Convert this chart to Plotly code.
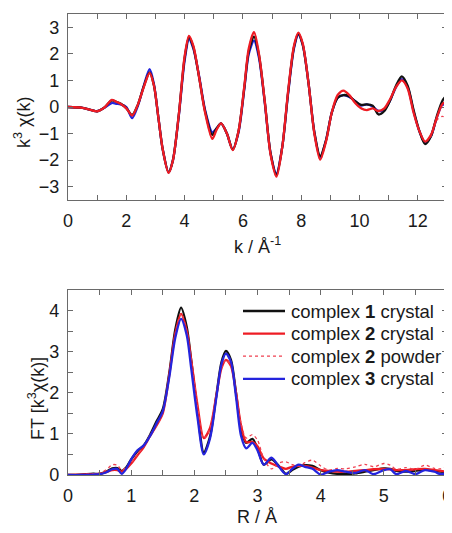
import plotly.graph_objects as go

# ---------------- top panel: k^3 chi(k) ----------------
k = [0, 0.5, 1.0, 1.25, 1.5, 1.65, 1.8, 2.0, 2.2, 2.4, 2.6, 2.8, 2.95, 3.1, 3.25, 3.45, 3.6, 3.8,
     4.0, 4.15, 4.3, 4.5, 4.7, 4.95, 5.1, 5.25, 5.45, 5.65, 5.85, 6.05, 6.2, 6.38, 6.55, 6.75,
     6.95, 7.15, 7.35, 7.55, 7.75, 7.9, 8.05, 8.25, 8.45, 8.65, 8.85, 9.05, 9.25, 9.45, 9.65,
     9.85, 10.05, 10.25, 10.45, 10.65, 10.85, 11.05, 11.25, 11.45, 11.65, 11.85, 12.05, 12.25,
     12.45, 12.65, 12.85, 13.0]

chi_c1_crystal = [0, -0.03, -0.16, -0.02, 0.25, 0.2, 0.13, -0.04, -0.3, 0.1, 0.78, 1.3, 0.8, -0.4,
                  -1.6, -2.46, -2.0, -0.3, 1.85, 2.62, 2.25, 1.1, -0.15, -1.05, -0.8, -0.62, -1.0,
                  -1.6, -0.9, 0.75, 2.1, 2.65, 1.95, 0.2, -1.75, -2.55, -1.5, 0.55, 2.25, 2.75, 2.35,
                  0.9, -0.95, -1.85, -1.25, -0.2, 0.35, 0.45, 0.4, 0.22, 0.08, 0.1, 0.05, -0.28,
                  -0.15, 0.25, 0.8, 1.15, 0.8, -0.1, -0.9, -1.4, -1.1, -0.35, 0.25, 0.45]

chi_c2_crystal = [0, -0.03, -0.16, -0.02, 0.27, 0.2, 0.12, -0.05, -0.32, 0.1, 0.75, 1.28, 0.8, -0.4,
                  -1.6, -2.48, -2.0, -0.3, 1.9, 2.68, 2.3, 1.1, -0.2, -1.2, -0.85, -0.62, -1.0,
                  -1.62, -0.9, 0.8, 2.2, 2.82, 2.0, 0.2, -1.8, -2.62, -1.5, 0.6, 2.3, 2.8, 2.4,
                  0.9, -1.0, -1.98, -1.3, -0.2, 0.45, 0.62, 0.45, 0.15, -0.05, -0.12, -0.05, -0.15,
                  -0.05, 0.3, 0.75, 1.0, 0.7, -0.2, -0.9, -1.3, -1.05, -0.4, 0.12, 0.2]

chi_c2_powder = [0, -0.03, -0.16, -0.02, 0.27, 0.2, 0.12, -0.05, -0.32, 0.1, 0.75, 1.28, 0.8, -0.4,
                 -1.6, -2.48, -2.0, -0.3, 1.9, 2.68, 2.3, 1.1, -0.2, -1.2, -0.85, -0.62, -1.0,
                 -1.62, -0.9, 0.8, 2.2, 2.82, 2.0, 0.2, -1.8, -2.62, -1.5, 0.6, 2.3, 2.8, 2.4,
                 0.9, -1.0, -1.98, -1.3, -0.2, 0.45, 0.6, 0.45, 0.15, -0.05, -0.1, -0.05, -0.15,
                 -0.05, 0.3, 0.75, 1.0, 0.7, -0.2, -0.9, -1.3, -1.1, -0.5, -0.35, -0.5]

chi_c3_crystal = [0, -0.03, -0.16, -0.03, 0.15, 0.12, 0.1, 0.0, -0.42, 0.05, 0.8, 1.42, 0.85, -0.4,
                  -1.6, -2.46, -2.0, -0.35, 1.75, 2.55, 2.2, 1.15, -0.1, -0.95, -0.8, -0.62, -1.0,
                  -1.6, -0.95, 0.7, 2.0, 2.5, 1.85, 0.15, -1.75, -2.5, -1.5, 0.5, 2.2, 2.72, 2.35,
                  0.9, -0.95, -1.9, -1.25, -0.2, 0.35, 0.45, 0.38, 0.22, 0.05, 0.1, 0.02, -0.15,
                  -0.1, 0.25, 0.75, 1.05, 0.75, -0.15, -0.9, -1.35, -1.1, -0.4, 0.1, 0.0]

k_ticks = [0, 2, 4, 6, 8, 10, 12]
chi_ticks = [-3, -2, -1, 0, 1, 2, 3]

# ---------------- bottom panel: Fourier transform ----------------
R = [0, 0.2, 0.4, 0.5, 0.6, 0.7, 0.78, 0.85, 0.92, 1.0, 1.1, 1.2, 1.3, 1.4, 1.5, 1.6, 1.7, 1.79,
     1.88, 1.95, 2.05, 2.15, 2.25, 2.35, 2.43, 2.5, 2.58, 2.66, 2.74, 2.82, 2.92, 3.0, 3.1, 3.22,
     3.35, 3.45, 3.55, 3.65, 3.75, 3.87, 4.0, 4.13, 4.26, 4.4, 4.55, 4.7, 4.84, 5.0, 5.1, 5.2,
     5.35, 5.5, 5.65, 5.8, 5.9, 6.0]

ft_c1_crystal = [0.0, 0.01, 0.03, 0.03, 0.08, 0.16, 0.17, 0.1, 0.18, 0.38, 0.58, 0.72, 0.98, 1.3,
                 1.6, 2.45, 3.55, 4.07, 3.6, 2.8, 1.55, 0.55, 0.95, 1.95, 2.75, 3.02, 2.8, 2.0,
                 1.1, 0.78, 0.88, 0.65, 0.25, 0.38, 0.2, 0.03, 0.12, 0.2, 0.24, 0.22, 0.12, 0.06,
                 0.03, 0.02, 0.04, 0.08, 0.12, 0.16, 0.15, 0.1, 0.08, 0.1, 0.13, 0.1, 0.08, 0.06]

ft_c2_crystal = [0.0, 0.01, 0.02, 0.03, 0.07, 0.12, 0.12, 0.08, 0.15, 0.28, 0.48, 0.68, 0.95, 1.2,
                 1.5, 2.4, 3.45, 3.92, 3.5, 2.8, 1.7, 0.9, 1.15, 1.95, 2.6, 2.8, 2.65, 2.0, 1.2,
                 0.8, 0.8, 0.7, 0.4, 0.28, 0.2, 0.15, 0.2, 0.22, 0.22, 0.18, 0.12, 0.1, 0.08, 0.08,
                 0.1, 0.12, 0.14, 0.15, 0.14, 0.12, 0.12, 0.14, 0.15, 0.12, 0.1, 0.08]

ft_c2_powder = [0.0, 0.01, 0.03, 0.05, 0.12, 0.25, 0.24, 0.12, 0.18, 0.3, 0.5, 0.7, 0.95, 1.2,
                1.5, 2.4, 3.45, 3.92, 3.5, 2.8, 1.7, 0.88, 1.15, 1.95, 2.6, 2.8, 2.65, 2.0, 1.25,
                0.9, 0.98, 0.85, 0.4, 0.15, 0.3, 0.32, 0.25, 0.22, 0.3, 0.36, 0.22, 0.12, 0.16,
                0.15, 0.2, 0.26, 0.2, 0.28, 0.24, 0.14, 0.18, 0.14, 0.24, 0.16, 0.15, 0.2]

ft_c3_crystal = [0.0, 0.0, 0.01, 0.02, 0.06, 0.14, 0.15, 0.03, 0.15, 0.38, 0.6, 0.72, 0.95, 1.25,
                 1.55, 2.35, 3.35, 3.8, 3.4, 2.6, 1.4, 0.5, 0.9, 1.9, 2.7, 2.95, 2.75, 1.9, 0.95,
                 0.65, 0.78, 0.6, 0.25, 0.42, 0.18, 0.02, 0.15, 0.25, 0.2, 0.15, 0.01, 0.08, 0.12,
                 0.08, 0.05, 0.12, 0.02, 0.12, 0.14, 0.02, 0.1, 0.02, 0.12, 0.08, 0.02, 0.05]

R_ticks = [0, 1, 2, 3, 4, 5, 6]
ft_ticks = [0, 1, 2, 3, 4]

series_names = ["complex <b>1</b> crystal", "complex <b>2</b> crystal",
                "complex <b>2</b> powder", "complex <b>3</b> crystal"]

BLACK = "#111111"
RED = "#ee1c24"
PINK = "#f04050"
BLUE = "#2424dd"

styles = [
    dict(color=BLACK, width=2.3),
    dict(color=RED, width=2.3),
    dict(color=PINK, width=1.3, dash="dot"),
    dict(color=BLUE, width=2.3),
]

fig = go.Figure()

top_series = [chi_c1_crystal, chi_c2_crystal, chi_c2_powder, chi_c3_crystal]
bot_series = [ft_c1_crystal, ft_c2_crystal, ft_c2_powder, ft_c3_crystal]
order_top = [3, 0, 2, 1]
order_bot = [0, 1, 2, 3]

for i in order_top:
    fig.add_trace(go.Scatter(x=k, y=top_series[i], mode="lines",
                             line=dict(shape="spline", smoothing=0.8, **styles[i]),
                             showlegend=False, xaxis="x", yaxis="y", hoverinfo="skip"))
for i in order_bot:
    fig.add_trace(go.Scatter(x=R, y=bot_series[i], mode="lines",
                             line=dict(shape="spline", smoothing=0.8, **styles[i]),
                             name=series_names[i], showlegend=False, xaxis="x2", yaxis="y2"))

FONT = "Liberation Sans, Arial, sans-serif"
TXT = "#1a1a1a"
FRAME = "#6a6a6a"
FS = 18

# The page body has an 8px margin, so the figure is drawn 8px in from the window corner.
OFF = 8
W, H = 452 - OFF, 533 - OFF
L = 68 - OFF          # plot left edge at window x=68
RM = 452 - 447        # plot right edge at window x=447
T = 14 - OFF          # plot top at window y=14
B = 533 - 475         # plot bottom at window y=475
PW, PH = W - L - RM, H - T - B


def px_x(px):
    """window pixel x -> paper fraction"""
    return (px - OFF - L) / PW


def px_y(py):
    """window pixel y -> paper fraction"""
    return (H - B - (py - OFF)) / PH


common = dict(showline=True, linecolor=FRAME, linewidth=1.2, mirror="ticks", ticks="inside",
              ticklen=5, tickcolor=FRAME, tickwidth=1, showgrid=False, zeroline=False,
              automargin=False, ticklabeloverflow="allow", ticklabelstandoff=4,
              tickfont=dict(family=FONT, size=FS, color=TXT))
minor_common = dict(ticks="inside", ticklen=5, tickcolor=FRAME, showgrid=False)

annotations = [
    dict(text="k / Å<sup>-1</sup>", x=px_x(257), y=px_y(245), xref="paper", yref="paper",
         showarrow=False, xanchor="center", yanchor="middle", font=dict(family=FONT, size=FS, color=TXT)),
    dict(text="k<sup>3</sup> χ(k)", x=px_x(22), y=px_y(123), xref="paper", yref="paper",
         showarrow=False, textangle=-90, xanchor="center", yanchor="middle",
         font=dict(family=FONT, size=FS, color=TXT)),
    dict(text="R / Å", x=px_x(257), y=px_y(517), xref="paper", yref="paper",
         showarrow=False, xanchor="center", yanchor="middle", font=dict(family=FONT, size=FS, color=TXT)),
    dict(text="FT [k<sup>3</sup>χ(k)]", x=px_x(36), y=px_y(399), xref="paper", yref="paper",
         showarrow=False, textangle=-90, xanchor="center", yanchor="middle",
         font=dict(family=FONT, size=FS, color=TXT)),
]

# legend drawn in the lower panel (upper right)
legend_rows = [311, 333.6, 356.2, 378.8]
shapes = []
for i, ry in enumerate(legend_rows):
    st = styles[i]
    shapes.append(dict(type="line", xref="paper", yref="paper", x0=px_x(243), x1=px_x(285),
                       y0=px_y(ry), y1=px_y(ry),
                       line=dict(color=st["color"], width=st["width"], dash=st.get("dash", "solid"))))
    annotations.append(dict(text=series_names[i], x=px_x(289), y=px_y(ry), xref="paper", yref="paper",
                            showarrow=False, xanchor="left", yanchor="middle",
                            font=dict(family=FONT, size=18.5, color=TXT)))

fig.update_layout(
    width=W, height=H,
    margin=dict(l=L, r=RM, t=T, b=B),
    paper_bgcolor="white", plot_bgcolor="white",
    font=dict(family=FONT, color=TXT),
    showlegend=False,
    xaxis=dict(domain=[0, 1], range=[0, 13], anchor="y", tickvals=k_ticks,
               minor=dict(dtick=1, **minor_common), **common),
    yaxis=dict(domain=[px_y(200), 1.0], range=[-3.5, 3.5], anchor="x", tickvals=chi_ticks, **common),
    xaxis2=dict(domain=[0, 1], range=[0, 6], anchor="y2", tickvals=R_ticks,
                minor=dict(dtick=0.5, **minor_common), **common),
    yaxis2=dict(domain=[0, px_y(290)], range=[0, 4.5], anchor="x2", tickvals=ft_ticks,
                minor=dict(dtick=0.5, **minor_common), **common),
    annotations=annotations,
    shapes=shapes,
)

fig.write_html("out.html")
